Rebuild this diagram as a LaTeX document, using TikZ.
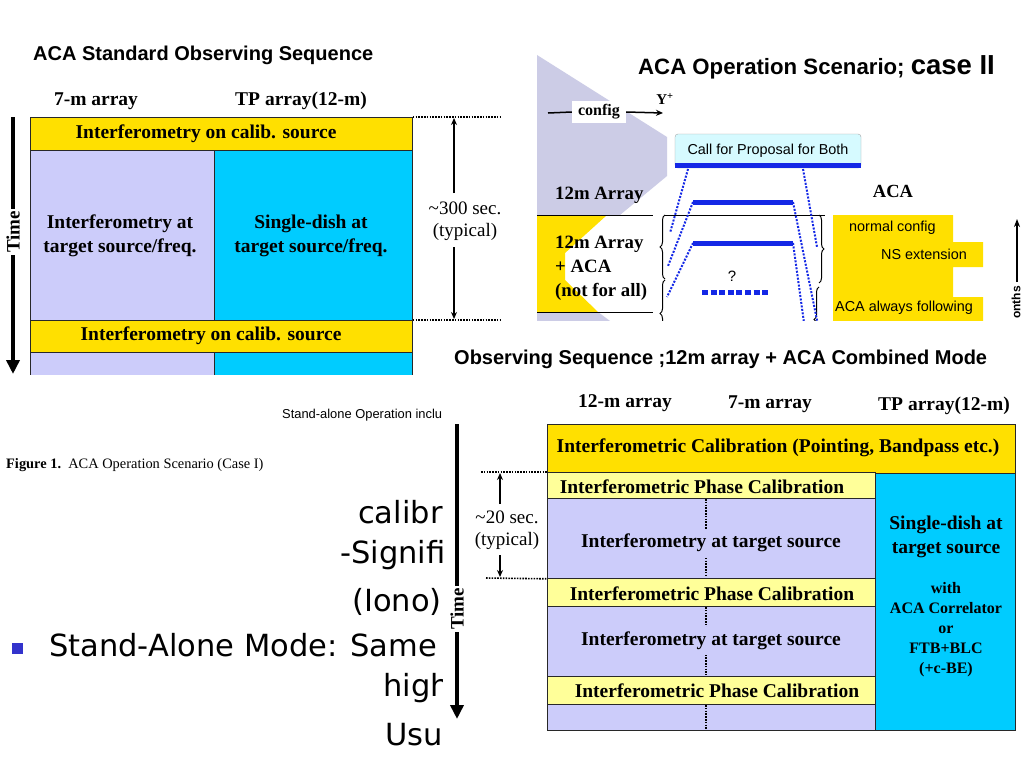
\documentclass[tikz,border=0pt]{standalone}
\usepackage{fontspec}
\setmainfont{Liberation Serif}
\setsansfont{Liberation Sans}
\newfontfamily\slidefont{DejaVu Sans}
\usetikzlibrary{arrows.meta,decorations.pathreplacing}
\definecolor{ylw}{RGB}{255,224,0}
\definecolor{lylw}{RGB}{255,255,153}
\definecolor{lav}{RGB}{204,204,250}
\definecolor{cyn}{RGB}{0,204,255}
\definecolor{bglav}{RGB}{204,204,230}
\definecolor{blu}{RGB}{20,40,230}
\definecolor{cfpfill}{RGB}{214,250,255}
\definecolor{bord}{RGB}{40,40,40}
\definecolor{bulletc}{RGB}{51,51,204}
\newcommand{\fsz}[2]{\fontsize{#1}{#2}\selectfont}
\begin{document}
\begin{tikzpicture}[x=1pt,y=-1pt,
  cell/.style={draw=bord,line width=0.8pt,inner sep=0pt,anchor=north west},
  hdr/.style={font=\bfseries\fsz{19.5}{24},inner sep=1pt},
  btxt/.style={font=\bfseries\fsz{19.5}{24},align=center,inner sep=1pt},
  rtxt/.style={font=\fsz{19}{22.5},align=center,inner sep=1pt},
  stxt/.style={font=\sffamily\fsz{14.4}{17},inner sep=1pt,anchor=west},
  dotline/.style={line width=1.6pt,dash pattern=on 1.6pt off 1.2pt},
  timearrow/.style={line width=4pt,-{Triangle[length=14pt,width=13pt]}},
  timeline/.style={line width=4pt},
  thinarrow/.style={line width=1.6pt,-{Stealth[length=7pt,width=6pt]}},
  blubar/.style={blu,line width=5pt},
  bdot/.style={blu,line width=2pt,dash pattern=on 2pt off 1.5pt},
  slide/.style={font=\slidefont\fsz{30.5}{36},inner sep=0pt,anchor=west}]
\useasboundingbox (0,0) rectangle (1024,768);
\fill[white] (0,0) rectangle (1024,768);

% ---------------- slide text underneath ----------------
\begin{scope}
\clip (0,380) rectangle (442,768);
\node[font=\sffamily\fsz{12.9}{15},anchor=west,inner sep=0pt] (sa) at (282,415) {Stand-alone Operation inclu};
\node[font=\fsz{14.4}{17},anchor=west,inner sep=0pt] (fig1) at (6,465) {\textbf{Figure 1.}\ \ ACA Operation Scenario (Case I)};
\node[slide] (s1) at (358,512) {calibr};
\node[slide] (s2) at (340,555) {-Signifi};
\node[slide] (s3) at (352,602) {(Iono)};
\node[slide] (s4) at (49,645) {Stand-Alone Mode: Same a};
\node[slide] (s5) at (383,688) {high};
\node[slide] (s6) at (385,735) {Usu};
\fill[bulletc] (12,643) rectangle (23,654);
\end{scope}

% ---------------- Panel 1 ----------------
\begin{scope}
\clip (0,30) rectangle (537,374);
\node[anchor=west,font=\sffamily\bfseries\fsz{20}{24},inner sep=0pt] (t1) at (33,55) {ACA Standard Observing Sequence};
\node[hdr] (h1a) at (96,101) {7-m array};
\node[hdr] (h1b) at (301,101) {TP array(12-m)};
\node[cell,fill=ylw,minimum width=382pt,minimum height=33pt] (a1) at (30,117) {};
\node[cell,fill=lav,minimum width=184pt,minimum height=170pt] (a2) at (30,150) {};
\node[cell,fill=cyn,minimum width=198pt,minimum height=170pt] (a3) at (214,150) {};
\node[cell,fill=ylw,minimum width=382pt,minimum height=32pt] (a4) at (30,320) {};
\node[cell,fill=lav,minimum width=184pt,minimum height=24pt] (a5) at (30,352) {};
\node[cell,fill=cyn,minimum width=198pt,minimum height=24pt] (a6) at (214,352) {};
\node[btxt] (a1t) at (206,134) {Interferometry on calib. source};
\node[btxt] (a2t) at (120,236) {Interferometry at\\target source/freq.};
\node[btxt] (a3t) at (311,236) {Single-dish at\\target source/freq.};
\node[btxt] (a4t) at (211,336) {Interferometry on calib. source};
% time arrow
\coordinate (tm1s) at (13,117);
\coordinate (tm1e) at (13,374);
\node[font=\bfseries\fsz{19}{22},rotate=90,inner sep=2pt] (tm1) at (13,232) {Time};
\draw[timeline] (tm1s) -- (tm1.east);
\draw[timearrow] (tm1.west) -- (tm1e);
% duration
\coordinate (d1) at (500,117);
\coordinate (d2) at (500,320);
\draw[dotline] (a1.north east) -- (d1);
\draw[dotline] (a4.north east) -- (d2);
\node[rtxt] (dur1) at (465,221) {\textasciitilde300 sec.\\(typical)};
\coordinate (d1a) at (454,118);
\coordinate (d2a) at (454,319);
\draw[thinarrow] (454,193) -- (d1a);
\draw[thinarrow] (454,247) -- (d2a);
\end{scope}

% ---------------- Panel 2 ----------------
\begin{scope}
\clip (537,40) rectangle (1024,320);
\fill[bglav] (537,55) -- (667,137) -- (667,176) -- (620,215) -- (537,215) -- cycle;
\fill[ylw] (537,215) -- (607,215) -- (565,253) -- (565,280) -- (598,312) -- (537,312) -- cycle;
\fill[bglav] (537,312) -- (598,312) -- (614,324) -- (537,324) -- cycle;
\node[anchor=west,font=\sffamily\bfseries\fsz{22.2}{26},inner sep=0pt] (t2) at (638,67) {ACA Operation Scenario; {\fsz{27.5}{30}case II}};
% config arrow
\coordinate (cfa) at (548,113);
\coordinate (cfb) at (663,113);
\node[fill=white,font=\bfseries\fsz{16}{19},inner xsep=6pt,inner ysep=4pt] (cfg) at (599,112) {config};
\draw[line width=1.5pt] (cfa) -- (cfg.west);
\draw[line width=1.5pt,-{Stealth[length=7pt,width=6pt]}] (cfg.east) -- (cfb);
\node[font=\bfseries\fsz{15}{18},inner sep=0pt] (yp) at (665,99) {Y\textsuperscript{+}};
% call for proposal
\node[draw=gray!70,fill=cfpfill,rounded corners=3pt,minimum width=186pt,minimum height=34pt,inner sep=0pt,font=\sffamily\fsz{14.4}{17},text depth=3pt] (cfp) at (768,151) {Call for Proposal for Both};
\fill[blu] ([yshift=5pt]cfp.south west) rectangle (cfp.south east);
% labels
\node[anchor=west,font=\bfseries\fsz{18.8}{24},inner sep=0pt] (l12) at (555,195) {12m Array};
\node[anchor=west,font=\bfseries\fsz{18.8}{24},align=left,inner sep=0pt] (l12a) at (555,268) {12m Array\\+ ACA\\(not for all)};
\coordinate (hl1a) at (537,215); \coordinate (hl1b) at (653,215);
\coordinate (hl2a) at (665,215); \coordinate (hl2b) at (825,215);
\coordinate (hl3a) at (537,312); \coordinate (hl3b) at (653,312);
\draw[line width=0.8pt] (hl1a) -- (hl1b);
\draw[line width=0.8pt] (hl2a) -- (hl2b);
\draw[line width=0.8pt] (hl3a) -- (hl3b);
% braces
\draw[line width=1pt,decorate,decoration={brace,amplitude=5pt}] (665,279) -- (665,215);
\draw[line width=1pt,decorate,decoration={brace,amplitude=5pt}] (665,347) -- (665,280);
\draw[line width=1pt,decorate,decoration={brace,amplitude=5pt}] (819,215) -- (819,283);
\draw[line width=1pt,decorate,decoration={brace,amplitude=5pt}] (819,352) -- (819,287);
% blue bars
\coordinate (b1l) at (693,202); \coordinate (b1r) at (793,202);
\coordinate (b2l) at (693,243); \coordinate (b2r) at (793,243);
\draw[blubar] (b1l) -- (b1r);
\draw[blubar] (b2l) -- (b2r);
\coordinate (q1) at (702,292); \coordinate (q2) at (770,292);
\draw[blu,line width=5pt,dash pattern=on 6pt off 2.6pt] (q1) -- (q2);
\node[font=\sffamily\fsz{15}{18},inner sep=0pt] (qm) at (732,276) {?};
% blue dotted lines
\coordinate (L1a) at (688,169); \coordinate (L1b) at (670,233);
\coordinate (L2b) at (668,266);
\coordinate (L3b) at (667,297);
\coordinate (R1a) at (803,169); \coordinate (R1b) at (817,247);
\coordinate (R2b) at (819,330);
\coordinate (R3b) at (805,330);
\draw[bdot] (L1a) -- (L1b);
\draw[bdot] (b1l) -- (L2b);
\draw[bdot] (b2l) -- (L3b);
\draw[bdot] (R1a) -- (R1b);
\draw[bdot] (b1r) -- (R2b);
\draw[bdot] (b2r) -- (R3b);
% ACA side
\node[font=\bfseries\fsz{18.5}{22},inner sep=0pt] (aca) at (893,191) {ACA};
\fill[ylw] (833,215) -- (953,215) -- (953,242) -- (983,242) -- (983,267) -- (953,267) -- (953,297) -- (983,297) -- (983,325) -- (833,325) -- cycle;
\node[stxt] (nc) at (848,228) {normal config};
\node[stxt] (ns) at (880,254) {NS extension};
\node[stxt] (af) at (834,308) {ACA always following};
% months arrow
\coordinate (moa) at (1017,219);
\draw[line width=1.5pt,-{Stealth[length=8pt,width=6pt]}] (1017,282) -- (moa);
\end{scope}
\node[font=\sffamily\bfseries\fsz{12}{14},rotate=90,anchor=east,inner sep=0pt] (mo) at (1016,286) {onths};

% ---------------- Panel 3 ----------------
\begin{scope}
\clip (442,322) rectangle (1024,768);
\node[anchor=west,font=\sffamily\bfseries\fsz{20}{24},inner sep=0pt] (t3) at (454,359) {Observing Sequence ;12m array + ACA Combined Mode};
\node[hdr] (h3a) at (625,403) {12-m array};
\node[hdr] (h3b) at (770,404) {7-m array};
\node[hdr] (h3c) at (944,406) {TP array(12-m)};
\node[cell,fill=ylw,minimum width=468pt,minimum height=49pt] (cal) at (547,424) {};
\node[cell,fill=cyn,minimum width=140pt,minimum height=257pt] (sd) at (875,473) {};
\node[cell,fill=lylw,minimum width=328pt,minimum height=26pt] (ph1) at (547,472) {};
\node[cell,fill=lav,minimum width=328pt,minimum height=80pt] (tg1) at (547,498) {};
\node[cell,fill=lylw,minimum width=328pt,minimum height=28pt] (ph2) at (547,578) {};
\node[cell,fill=lav,minimum width=328pt,minimum height=70pt] (tg2) at (547,606) {};
\node[cell,fill=lylw,minimum width=328pt,minimum height=28pt] (ph3) at (547,676) {};
\node[cell,fill=lav,minimum width=328pt,minimum height=26pt] (tg3) at (547,704) {};
% dotted separators
\draw[dotline] (706,499) -- (706,577);
\draw[dotline] (706,607) -- (706,675);
\draw[dotline] (706,705) -- (706,730);
\node[btxt] (calt) at (778,448) {Interferometric Calibration (Pointing, Bandpass etc.)};
\node[btxt] (ph1t) at (702,487) {Interferometric Phase Calibration};
\node[btxt] (ph2t) at (712,594) {Interferometric Phase Calibration};
\node[btxt] (ph3t) at (717,691) {Interferometric Phase Calibration};
\node[btxt,fill=lav,inner ysep=5pt] (tg1t) at (711,543) {Interferometry at target source};
\node[btxt,fill=lav,inner ysep=5pt] (tg2t) at (711,641) {Interferometry at target source};
\node[btxt] (sdt) at (946,537) {Single-dish at\\target source};
\node[font=\bfseries\fsz{16}{20},align=center,inner sep=0pt] (sdw) at (946,630) {with\\ACA Correlator\\or\\FTB+BLC\\(+c-BE)};
% duration
\coordinate (e1) at (481,472);
\coordinate (e2) at (486,578);
\draw[dotline] (e1) -- (ph1.north west);
\draw[dotline] (e2) -- (tg1.south west);
\node[rtxt] (dur3) at (507,530) {\textasciitilde20 sec.\\(typical)};
\coordinate (e1a) at (500,473);
\coordinate (e2a) at (500,577);
\draw[thinarrow] (500,504) -- (e1a);
\draw[thinarrow] (500,555) -- (e2a);
% time arrow
\coordinate (tm3s) at (457,424);
\coordinate (tm3e) at (457,719);
\node[font=\bfseries\fsz{19}{22},rotate=90,inner sep=2pt] (tm3) at (457,609) {Time};
\draw[timeline] (tm3s) -- (tm3.east);
\draw[timearrow] (tm3.west) -- (tm3e);
\end{scope}
\end{tikzpicture}
\end{document}
